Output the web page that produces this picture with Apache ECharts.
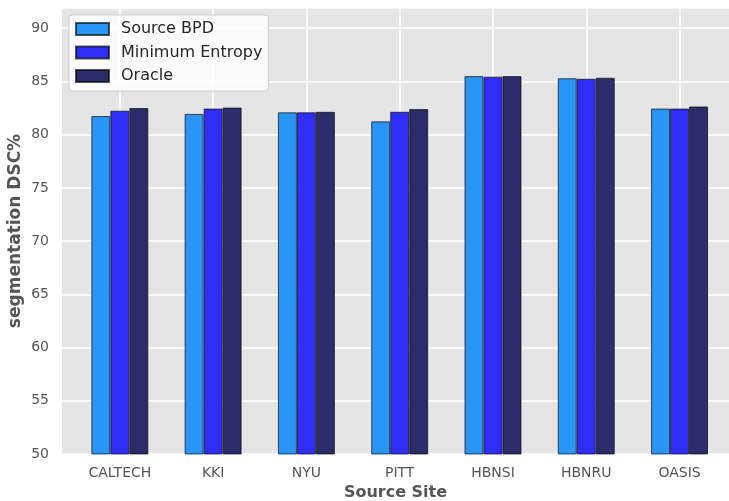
<!DOCTYPE html>
<html>
<head>
<meta charset="utf-8">
<script src="https://cdn.jsdelivr.net/npm/echarts@6/dist/echarts.min.js"></script>
<style>
  html, body { margin: 0; padding: 0; background: #ffffff; }
  #chart { width: 729px; height: 501px; }
</style>
</head>
<body>
<div id="chart"></div>
<script>
// Source sites along the x axis
const sites = ['CALTECH', 'KKI', 'NYU', 'PITT', 'HBNSI', 'HBNRU', 'OASIS'];

// Segmentation DSC (%) per source site
const sourceBPD      = [81.75, 81.95, 82.10, 81.25, 85.50, 85.30, 82.45];
const minimumEntropy = [82.25, 82.45, 82.10, 82.15, 85.45, 85.25, 82.45];
const oracle         = [82.50, 82.55, 82.15, 82.40, 85.50, 85.35, 82.65];

// Y axis ticks
const yTicks = [50, 55, 60, 65, 70, 75, 80, 85, 90];

const FONT = 'DejaVu Sans';
const siteIndex = sites.map((_, i) => i);
const toPoints = arr => arr.map((v, i) => [i, v]);

const edge = { borderColor: 'rgba(0,0,0,0.65)', borderWidth: 1 };

const chart = echarts.init(document.getElementById('chart'), null, { renderer: 'canvas' });

chart.setOption({
  animation: false,
  backgroundColor: '#ffffff',
  grid: {
    left: 62, right: 0, top: 8, bottom: 47,
    outerBoundsMode: 'none',
    containLabel: false,
    show: true, backgroundColor: '#e5e5e5', borderWidth: 0
  },
  legend: {
    orient: 'vertical',
    left: 69, top: 15,
    padding: [6, 6, 7, 6],
    icon: 'rect',
    itemWidth: 33, itemHeight: 12, itemGap: 7.5,
    backgroundColor: 'rgba(255,255,255,0.82)',
    borderColor: '#cccccc', borderWidth: 1, borderRadius: 3,
    textStyle: { fontFamily: FONT, fontSize: 16, color: '#262626', lineHeight: 15, padding: [0, 0, 0, 7] },
    data: ['Source BPD', 'Minimum Entropy', 'Oracle']
  },
  xAxis: {
    type: 'value',
    min: -0.62, max: 6.53,
    name: 'Source Site',
    nameLocation: 'middle',
    nameGap: 31,
    nameMoveOverlap: false,
    nameTextStyle: { fontFamily: FONT, fontSize: 16, fontWeight: 'bold', color: '#555555' },
    axisLine: { show: false },
    axisTick: { show: false, customValues: siteIndex },
    axisLabel: {
      customValues: siteIndex,
      fontFamily: FONT, fontSize: 14, color: '#555555', margin: 12,
      formatter: v => sites[Math.round(v)] || ''
    },
    splitLine: { show: true, lineStyle: { color: '#ffffff', width: 1.6 } }
  },
  yAxis: {
    type: 'value',
    min: 50, max: 91.9,
    interval: 5,
    name: 'segmentation DSC%',
    nameLocation: 'middle',
    nameGap: 38,
    nameMoveOverlap: false,
    nameTextStyle: { fontFamily: FONT, fontSize: 17, fontWeight: 'bold', color: '#555555' },
    axisLine: { show: false },
    axisTick: { show: false },
    axisLabel: {
      fontFamily: FONT, fontSize: 14, color: '#555555', margin: 13,
      formatter: v => (yTicks.includes(v) ? String(v) : '')
    },
    splitLine: { show: true, lineStyle: { color: '#ffffff', width: 1.6 } }
  },
  series: [
    {
      name: 'Source BPD', type: 'bar', barWidth: 19, barGap: '0%',
      itemStyle: Object.assign({ color: '#2b95f6' }, edge),
      data: toPoints(sourceBPD)
    },
    {
      name: 'Minimum Entropy', type: 'bar', barWidth: 19, barGap: '0%',
      itemStyle: Object.assign({ color: '#2e2ef8' }, edge),
      data: toPoints(minimumEntropy)
    },
    {
      name: 'Oracle', type: 'bar', barWidth: 19, barGap: '0%',
      itemStyle: Object.assign({ color: '#2c2c6a' }, edge),
      data: toPoints(oracle)
    }
  ]
});
</script>
</body>
</html>
